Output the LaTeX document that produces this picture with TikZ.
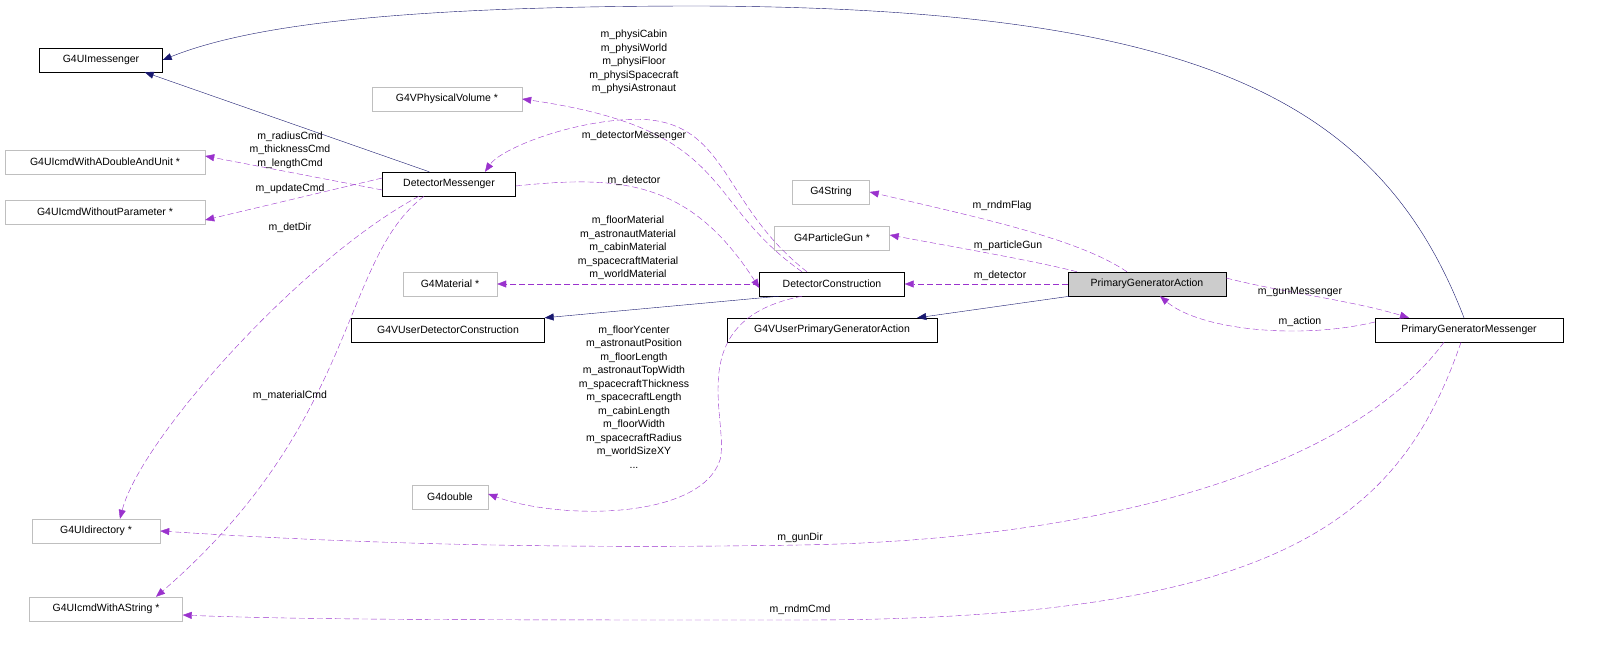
\documentclass[tikz,border=0pt]{standalone}
\usepackage{fontspec}
\setmainfont{Liberation Sans}
\usetikzlibrary{arrows.meta}
\definecolor{pur}{HTML}{9A32CD}
\definecolor{nav}{HTML}{191970}
\definecolor{gbox}{HTML}{BFBFBF}
\begin{document}
\begin{tikzpicture}[x=1pt,y=-1pt,
  every node/.style={font=\fontsize{10.5}{13.5}\selectfont},
  box/.style={draw=black,fill=white,minimum height=24pt,inner sep=3pt,anchor=center},
  gbox/.style={box,draw=gbox},
  lab/.style={align=center,inner sep=0pt},
  dep/.style={pur,dash pattern=on 6pt off 3pt,-{Triangle[length=9pt,width=7pt]}},
  inh/.style={nav,-{Triangle[length=9pt,width=7pt]}}]
\clip (0,0) rectangle (1624,647);
\fill[white] (0,0) rectangle (1624,647);
\node[box,minimum width=123pt] (uim) at (101,60) {G4UImessenger};
\node[gbox,minimum width=150pt] (pv) at (447,99) {G4VPhysicalVolume *};
\node[gbox,minimum width=200pt] (dau) at (105,162) {G4UIcmdWithADoubleAndUnit *};
\node[gbox,minimum width=200pt] (wop) at (105,212) {G4UIcmdWithoutParameter *};
\node[box,minimum width=133pt] (dm) at (449,184) {DetectorMessenger};
\node[gbox,minimum width=77pt] (str) at (831,192) {G4String};
\node[gbox,minimum width=115pt] (pg) at (832,238) {G4ParticleGun *};
\node[gbox,minimum width=94pt] (mat) at (450,284) {G4Material *};
\node[box,minimum width=145pt] (dc) at (832,284) {DetectorConstruction};
\node[box,fill=gbox!80,minimum width=158pt] (pga) at (1147,284) {PrimaryGeneratorAction};
\node[box,minimum width=193pt] (vudc) at (448,330) {G4VUserDetectorConstruction};
\node[box,minimum width=210pt] (vupga) at (832,330) {G4VUserPrimaryGeneratorAction};
\node[box,minimum width=188pt] (pgm) at (1469,330) {PrimaryGeneratorMessenger};
\node[gbox,minimum width=76pt] (dbl) at (450,497) {G4double};
\node[gbox,minimum width=128pt] (dir) at (96,531) {G4UIdirectory *};
\node[gbox,minimum width=153pt] (ast) at (106,609) {G4UIcmdWithAString *};

% inheritance
\draw[inh] ([xshift=47pt]dm.north west) -- ([xshift=-18pt]uim.south east);
\draw[inh] ([xshift=-5pt]pgm.north) .. controls (1380,100) and (1200,8) .. (700,6) .. controls (400,6) and (250,25) .. (uim.east);
\draw[inh] ([xshift=20pt]dc.south west) -- (vudc.north east);
\draw[inh] ([xshift=2pt]pga.south west) -- ([xshift=-20pt]vupga.north east);

% dependencies
\draw[dep] ([xshift=-30pt]dc.north) .. controls (700,200) and (735,130) .. (pv.east);
\node[lab] at (634,62) {m\_physiCabin\\m\_physiWorld\\m\_physiFloor\\m\_physiSpacecraft\\m\_physiAstronaut};
\draw[dep] ([xshift=-25pt]dc.north) .. controls (715,200) and (730,110) .. (620,120) .. controls (560,125) and (500,150) .. ([xshift=36pt]dm.north);
\node[lab] at (634,136) {m\_detectorMessenger};
\draw[dep] ([yshift=-2pt]dm.east) .. controls (620,175) and (690,180) .. ([yshift=-4pt]dc.west);
\node[lab] at (634,181) {m\_detector};
\draw[dep] ([yshift=-6pt]dm.west) -- ([yshift=6pt]dau.east);
\node[lab] at (290,150) {m\_radiusCmd\\m\_thicknessCmd\\m\_lengthCmd};
\draw[dep] ([yshift=6pt]dm.west) -- ([yshift=-8pt]wop.east);
\node[lab] at (290,189) {m\_updateCmd};
\draw[dep] ([xshift=-30pt]dm.south) .. controls (300,260) and (140,440) .. ([xshift=24pt]dir.north);
\node[lab] at (290,228) {m\_detDir};
\draw[dep] ([xshift=-25pt]dm.south) .. controls (340,260) and (360,420) .. ([xshift=50pt]ast.north);
\node[lab] at (290,396) {m\_materialCmd};
\draw[dep] (dc.west) -- (mat.east);
\node[lab] at (628,248) {m\_floorMaterial\\m\_astronautMaterial\\m\_cabinMaterial\\m\_spacecraftMaterial\\m\_worldMaterial};
\draw[dep] ([xshift=-30pt]dc.south) .. controls (680,320) and (730,420) .. (720,460) .. controls (700,520) and (560,520) .. ([yshift=3pt]dbl.east);
\node[lab] at (634,397) {m\_floorYcenter\\m\_astronautPosition\\m\_floorLength\\m\_astronautTopWidth\\m\_spacecraftThickness\\m\_spacecraftLength\\m\_cabinLength\\m\_floorWidth\\m\_spacecraftRadius\\m\_worldSizeXY\\...};
\draw[dep] ([xshift=-20pt]pga.north) .. controls (1080,240) and (990,220) .. (str.east);
\node[lab] at (1002,206) {m\_rndmFlag};
\draw[dep] ([xshift=-70pt]pga.north) .. controls (1040,262) and (960,248) .. ([yshift=3pt]pg.east);
\node[lab] at (1008,246) {m\_particleGun};
\draw[dep] (pga.west) -- (dc.east);
\node[lab] at (1000,276) {m\_detector};
\draw[dep] ([yshift=6pt]pga.east) .. controls (1280,292) and (1350,300) .. ([xshift=-60pt]pgm.north);
\node[lab] at (1300,292) {m\_gunMessenger};
\draw[dep] ([yshift=8pt]pgm.west) .. controls (1300,340) and (1200,330) .. ([xshift=13pt]pga.south);
\node[lab] at (1300,322) {m\_action};
\draw[dep] ([xshift=-25pt]pgm.south) .. controls (1350,470) and (1100,540) .. (800,545) .. controls (500,550) and (300,540) .. (dir.east);
\node[lab] at (800,538) {m\_gunDir};
\draw[dep] ([xshift=-8pt]pgm.south) .. controls (1400,520) and (1280,620) .. (800,620) .. controls (500,620) and (300,620) .. ([yshift=-6pt]ast.east);
\node[lab] at (800,610) {m\_rndmCmd};
\end{tikzpicture}
\end{document}
